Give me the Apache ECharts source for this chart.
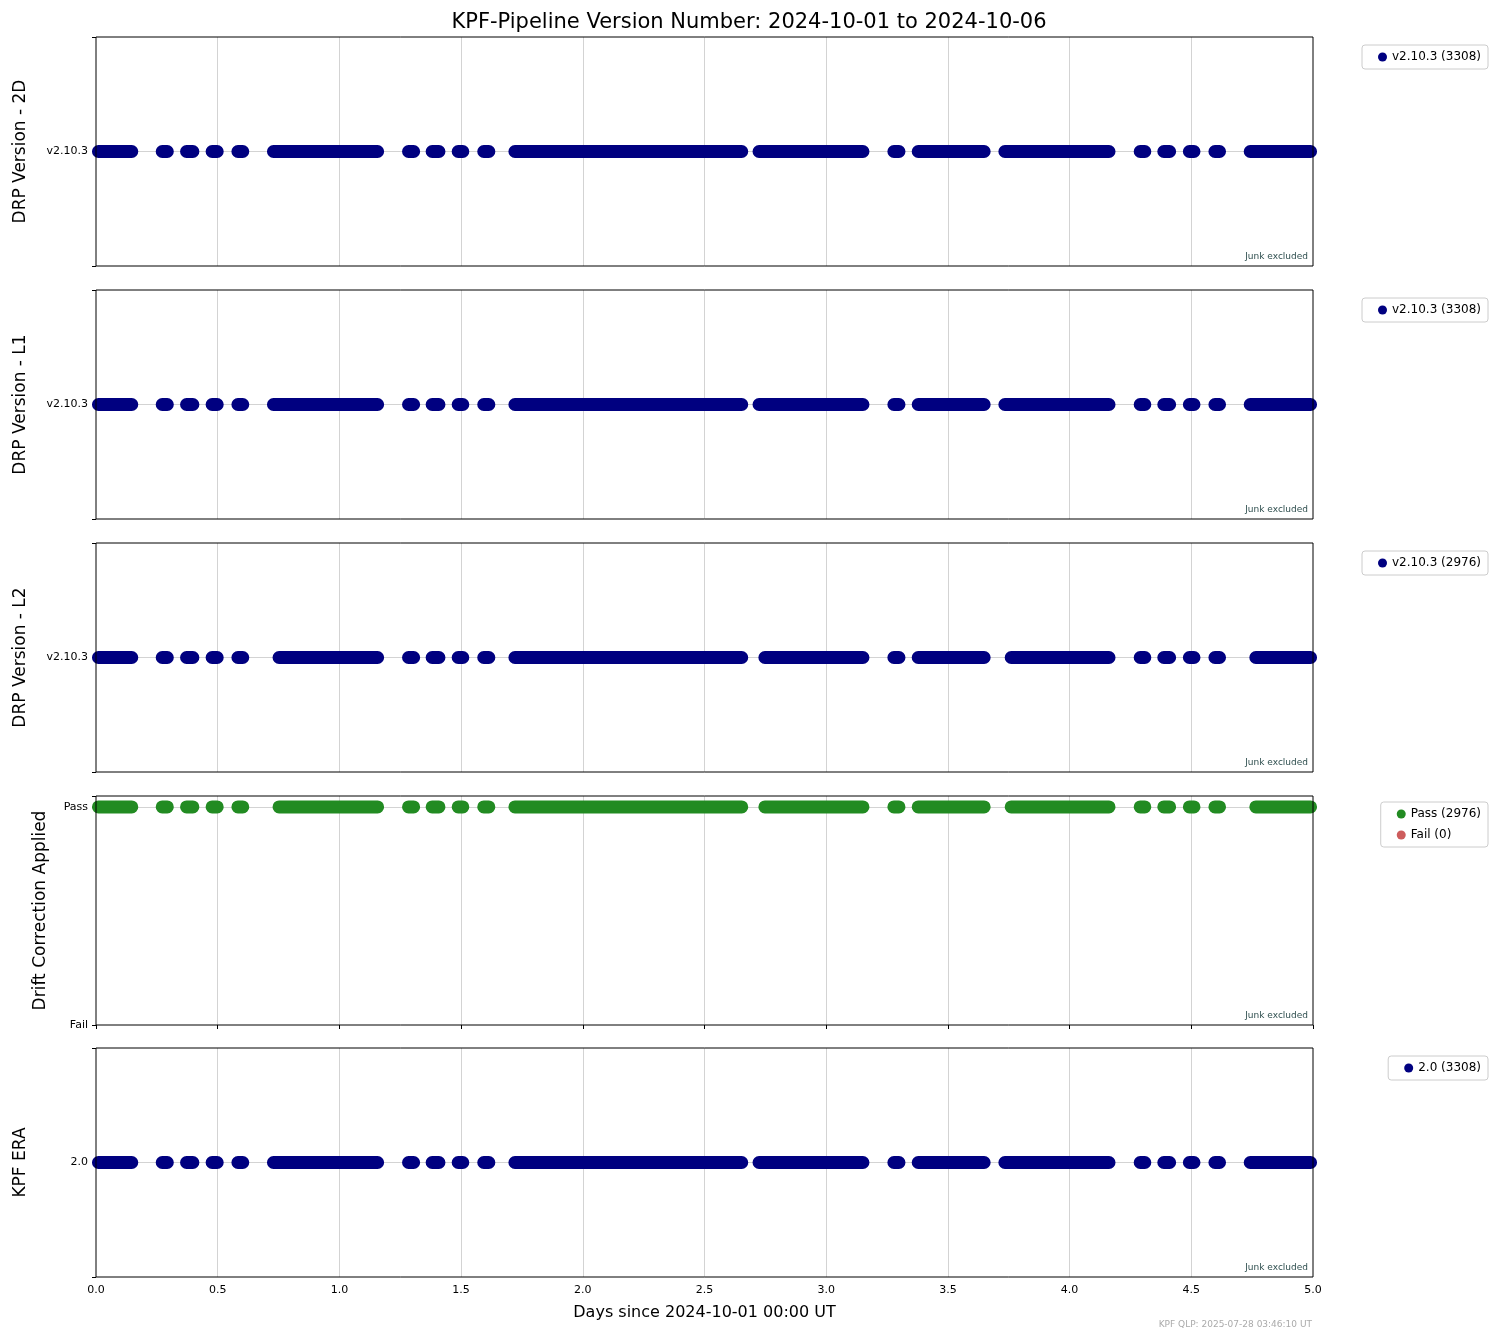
<!DOCTYPE html>
<html>
<head>
<meta charset="utf-8">
<script src="https://cdn.jsdelivr.net/npm/echarts@6/dist/echarts.min.js"></script>
<style>html,body{margin:0;padding:0;background:#fff}#main{width:1498px;height:1340px}</style>
</head>
<body>
<div id="main"></div>
<script>
var runsAll = [[0.01,0.147],[0.272,0.293],[0.372,0.398],[0.477,0.498],[0.583,0.603],[0.729,1.157],
  [1.284,1.305],[1.381,1.409],[1.488,1.507],[1.593,1.614],[1.721,2.653],[2.724,3.151],[3.278,3.299],
  [3.378,3.649],[3.734,4.162],[4.290,4.309],[4.387,4.411],[4.492,4.511],[4.597,4.616],[4.742,4.99]];
var runsL2 = [[0.01,0.147],[0.272,0.293],[0.372,0.398],[0.477,0.498],[0.583,0.603],[0.752,1.157],
  [1.284,1.305],[1.381,1.409],[1.488,1.507],[1.593,1.614],[1.721,2.653],[2.748,3.151],[3.278,3.299],
  [3.378,3.649],[3.760,4.162],[4.290,4.309],[4.387,4.411],[4.492,4.511],[4.597,4.616],[4.765,4.99]];

var panelNames = ['DRP Version - 2D','DRP Version - L1','DRP Version - L2','Drift Correction Applied','KPF ERA'];
var tickLabels = ['v2.10.3','v2.10.3','v2.10.3',null,'2.0'];
var legendNames = ['v2.10.3 (3308)','v2.10.3 (3308)','v2.10.3 (2976)',null,'2.0 (3308)'];
var passName = 'Pass (2976)', failName = 'Fail (0)';

var tops = [37,290,543,796,1048];
var ph = 229;
var navy = '#000080', green = '#228b22', red = '#cd5c5c';
var font = 'DejaVu Sans';

function runData(runs, y) {
  var d = [];
  runs.forEach(function(r){ d.push([r[0],y],[r[1],y],null); });
  d.pop();
  return d;
}

var grids=[], xAxes=[], yAxes=[], series=[], legends=[], graphics=[];
panelNames.forEach(function(name, i) {
  grids.push({left:96, width:1217, top:tops[i], height:ph, show:true, borderColor:'#000', borderWidth:1, z:5});
  xAxes.push({type:'value', gridIndex:i, min:0, max:5, interval:0.5,
    axisLine:{show:false}, axisTick:{show:true, length:4, lineStyle:{color:'#000'}},
    axisLabel:{show:i===4, color:'#000', fontSize:11, fontFamily:font, formatter:function(v){return v.toFixed(1);}},
    splitLine:{show:true, showMinLine:false, showMaxLine:false, lineStyle:{color:'#d3d3d3'}},
    name: i===4 ? 'Days since 2024-10-01 00:00 UT' : '', nameLocation:'middle', nameGap:28,
    nameTextStyle:{fontSize:16, color:'#000', fontFamily:font}});
  var drift = i===3;
  yAxes.push({type:'value', gridIndex:i, min: drift?0:-1, max: drift?1.05:1, interval:1,
    axisLine:{show:false}, axisTick:{show:true, length:4, lineStyle:{color:'#000'}},
    axisLabel:{color:'#000', fontSize:11, fontFamily:font, formatter:function(v){
      if (drift) return v===0?'Fail':(v===1?'Pass':'');
      return v===0?tickLabels[i]:''; }},
    splitLine:{show:true, showMinLine:false, showMaxLine:false, lineStyle:{color:'#d3d3d3'}},
    name:name, nameLocation:'middle', nameGap: drift?47:67, nameRotate:90,
    nameTextStyle:{fontSize:17, color:'#000', fontFamily:font}});
  var legTop = tops[i]+8;
  if (drift) {
    series.push({name:passName, type:'line', xAxisIndex:i, yAxisIndex:i, data:runData(runsL2,1),
      symbol:'none', connectNulls:false, color:green, itemStyle:{color:green},
      lineStyle:{width:13, cap:'round', color:green}, silent:true, animation:false});
    series.push({name:failName, type:'line', xAxisIndex:i, yAxisIndex:i, data:[],
      color:red, itemStyle:{color:red}, animation:false});
    legends.push({orient:'vertical', right:10, top:tops[i]+6, itemWidth:9, itemHeight:9, itemGap:9,
      padding:[6,7,6,16], borderColor:'#ccc', borderWidth:1, borderRadius:3,
      textStyle:{fontSize:12, color:'#000', fontFamily:font},
      data:[{name:passName, icon:'circle'},{name:failName, icon:'circle'}]});
  } else {
    series.push({name:legendNames[i], type:'line', xAxisIndex:i, yAxisIndex:i,
      data:runData(i===2?runsL2:runsAll,0),
      symbol:'none', connectNulls:false, color:navy, itemStyle:{color:navy},
      lineStyle:{width:13, cap:'round', color:navy}, silent:true, animation:false});
    legends.push({orient:'vertical', right:10, top:legTop, itemWidth:9, itemHeight:9,
      padding:[6,7,6,16], borderColor:'#ccc', borderWidth:1, borderRadius:3,
      textStyle:{fontSize:12, color:'#000', fontFamily:font},
      data:[{name:legendNames[i], icon:'circle'}]});
  }
  graphics.push({type:'text', right:190, top:tops[i]+ph-14,
    style:{text:'Junk excluded', fontSize:9, fill:'#2f4f4f', fontFamily:font}});
});
graphics.push({type:'text', right:186, top:1320,
  style:{text:'KPF QLP: 2025-07-28 03:46:10 UT', fontSize:9, fill:'#aaaaaa', fontFamily:font}});

var chart = echarts.init(document.getElementById('main'));
chart.setOption({
  animation:false,
  textStyle:{fontFamily:font},
  title:{text:'KPF-Pipeline Version Number: 2024-10-01 to 2024-10-06', left:'center', top:7,
    textStyle:{fontSize:21, fontWeight:'normal', color:'#000', fontFamily:font}},
  grid:grids, xAxis:xAxes, yAxis:yAxes, series:series, legend:legends, graphic:graphics
});
</script>
</body>
</html>
